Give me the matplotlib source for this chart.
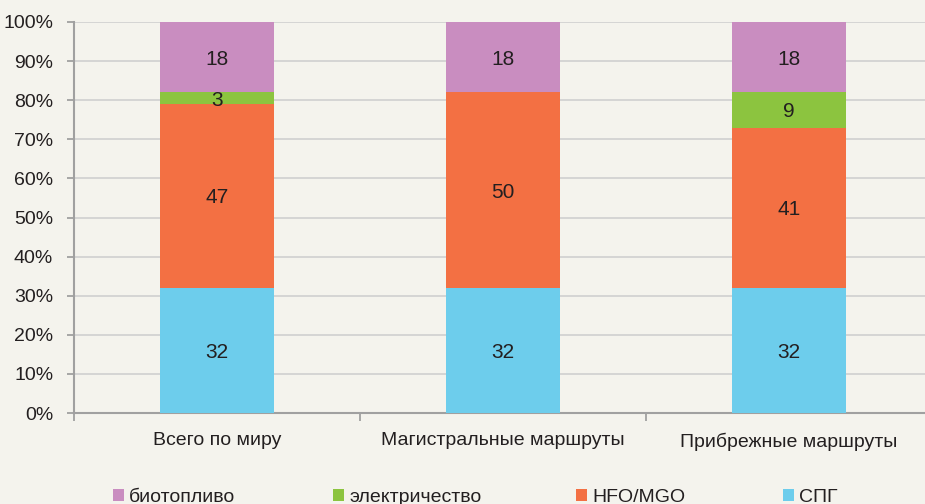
import matplotlib
matplotlib.use('Agg')
import matplotlib.pyplot as plt
from matplotlib.patches import Rectangle
import numpy as np

# data
categories = ['Всего по миру', 'Магистральные маршруты', 'Прибрежные маршруты']
spg = [32, 32, 32]
hfo = [47, 50, 41]
elec = [3, 0, 9]
bio = [18, 18, 18]

series = [('СПГ', spg, '#6dcdec'),
          ('HFO/MGO', hfo, '#f37043'),
          ('электричество', elec, '#8cc43f'),
          ('биотопливо', bio, '#c98dc0')]

plt.rcParams['font.family'] = ['Liberation Sans Narrow', 'Liberation Sans', 'DejaVu Sans']
bg = '#f4f3ed'
txt = '#231f20'
fs = 14

fig = plt.figure(figsize=(9.25, 5.04), dpi=100, facecolor=bg)
ax = fig.add_axes([74 / 925, 91 / 504, 858 / 925, 391 / 504], facecolor=bg)

x = np.arange(len(categories))
bottom = np.zeros(len(categories))
colors = {}
for name, vals, col in series:
    vals = np.array(vals, dtype=float)
    ax.bar(x, vals, bottom=bottom, width=0.4, color=col, zorder=3, linewidth=0)
    colors[name] = col
    for xi, v, b0 in zip(x, vals, bottom):
        if v > 0:
            ax.text(xi, b0 + v / 2, f'{int(v)}', ha='center', va='center_baseline',
                    fontsize=fs + 1, color=txt, zorder=4)
    bottom += vals

ax.set_xlim(-0.5, 2.5)
ax.set_ylim(0, 100)
ax.set_yticks(np.arange(0, 101, 10))
ax.set_yticklabels([f'{v}%' for v in range(0, 101, 10)], fontsize=fs, color=txt)
ax.yaxis.grid(True, color='#d2d2d2', linewidth=1.3, zorder=0)
ax.set_xticks(x)
ax.set_xticklabels(categories, fontsize=fs, color=txt)
ax.tick_params(axis='x', length=0, pad=14)
ax.set_xticks([-0.5, 0.5, 1.5], minor=True)
ax.tick_params(axis='x', which='minor', length=6, width=1.3, color='#a0a0a0')
ax.tick_params(axis='y', length=5, width=1.3, color='#a0a0a0', pad=10)

for s in ['top', 'right']:
    ax.spines[s].set_visible(False)
for s in ['left', 'bottom']:
    ax.spines[s].set_color('#a0a0a0')
    ax.spines[s].set_linewidth(1.5)

# legend, laid out like the original
order = ['биотопливо', 'электричество', 'HFO/MGO', 'СПГ']
leg_x = [113, 333, 576, 783]
leg_y = 495
for name, px in zip(order, leg_x):
    fig.patches.append(Rectangle((px / 925, (504 - leg_y - 6) / 504), 11 / 925, 12 / 504,
                                 transform=fig.transFigure, color=colors[name], linewidth=0))
    fig.text((px + 16) / 925, (504 - leg_y) / 504, name, fontsize=fs, color=txt,
             ha='left', va='center_baseline')

fig.savefig('out.png', dpi=100, facecolor=bg)
